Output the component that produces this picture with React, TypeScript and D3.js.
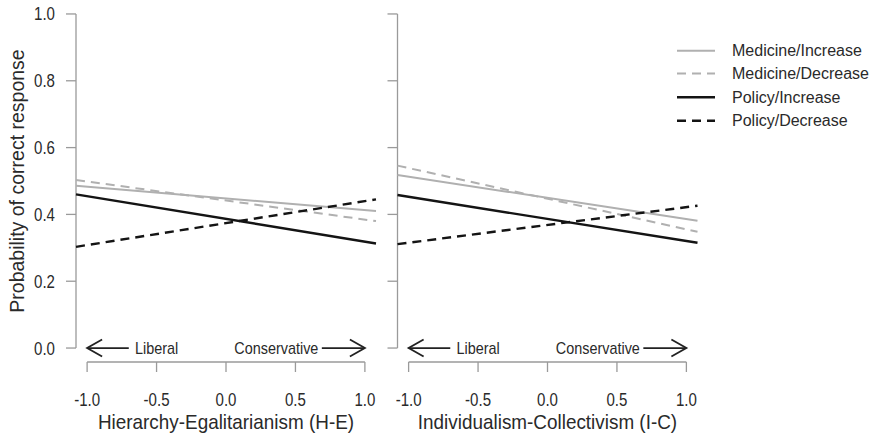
import React from "react";
import * as d3 from "d3";

const xEnds = [-1.08, 1.08];
const xTicks = [-1.0, -0.5, 0.0, 0.5, 1.0];
const yTicks = [0.0, 0.2, 0.4, 0.6, 0.8, 1.0];

// Left panel: Hierarchy-Egalitarianism
const heMedInc = [0.486, 0.41];
const heMedDec = [0.503, 0.38];
const hePolInc = [0.46, 0.313];
const hePolDec = [0.303, 0.445];

// Right panel: Individualism-Collectivism
const icMedInc = [0.518, 0.381];
const icMedDec = [0.546, 0.348];
const icPolInc = [0.458, 0.315];
const icPolDec = [0.311, 0.426];

const seriesNames = ["Medicine/Increase", "Medicine/Decrease", "Policy/Increase", "Policy/Decrease"];
const seriesColors = ["#b0b0b0", "#b0b0b0", "#141414", "#141414"];
const seriesWidths = [2, 2, 2.4, 2.4];
const seriesDash = [null, "9,6", null, "9,6"];

const FONT = "'Liberation Sans', Arial, Helvetica, sans-serif";
const AXIS = "#9a9a9a";
const TXT = "#2a2a2a";

const yScale = d3.scaleLinear().domain([-0.04, 1.04]).range([361.4, 0.6]);

function SText({
  x,
  y,
  sx,
  size,
  anchor,
  children,
}: {
  x: number;
  y: number;
  sx: number;
  size: number;
  anchor?: string;
  children: React.ReactNode;
}) {
  return (
    <text
      transform={`translate(${x},${y}) scale(${sx},1)`}
      fontSize={size}
      textAnchor={anchor || "start"}
      fill={TXT}
    >
      {children}
    </text>
  );
}

type PanelProps = {
  x0: number;
  x1: number;
  title: string;
  data: number[][];
  showYLabels: boolean;
};

function Arrow({ xa, xb, y }: { xa: number; xb: number; y: number }) {
  const dir = xb > xa ? 1 : -1;
  const hx = 15 * dir;
  return (
    <g stroke="#222" strokeWidth={1.8} fill="none">
      <line x1={xa} y1={y} x2={xb} y2={y} />
      <polyline points={`${xb - hx},${y - 8.5} ${xb},${y} ${xb - hx},${y + 8.5}`} />
    </g>
  );
}

function Panel({ x0, x1, title, data, showYLabels }: PanelProps) {
  const x = d3.scaleLinear().domain([-1.08, 1.08]).range([x0, x1]);
  const line = d3
    .line<number>()
    .x((_, i) => x(xEnds[i]))
    .y((d) => yScale(d));
  const axisY = 362;
  const y0 = yScale(0);
  return (
    <g fontFamily={FONT}>
      <line x1={x0} x2={x0} y1={yScale(0)} y2={yScale(1)} stroke={AXIS} strokeWidth={1.3} />
      {yTicks.map((t) => (
        <g key={t}>
          <line x1={x0 - 10} x2={x0} y1={yScale(t)} y2={yScale(t)} stroke={AXIS} strokeWidth={1.3} />
          {showYLabels && (
            <SText x={x0 - 21} y={yScale(t) + 6.5} sx={0.86} size={17.5} anchor="end">
              {t.toFixed(1)}
            </SText>
          )}
        </g>
      ))}
      <line x1={x(-1)} x2={x(1)} y1={axisY} y2={axisY} stroke={AXIS} strokeWidth={1.3} />
      {xTicks.map((t) => (
        <g key={t}>
          <line x1={x(t)} x2={x(t)} y1={axisY} y2={axisY + 10} stroke={AXIS} strokeWidth={1.3} />
          <SText x={x(t)} y={406} sx={0.86} size={17.5} anchor="middle">
            {t.toFixed(1)}
          </SText>
        </g>
      ))}
      <SText x={x(0)} y={428.5} sx={0.9} size={21} anchor="middle">
        {title}
      </SText>
      {data.map((d, i) => (
        <path
          key={i}
          d={line(d) || ""}
          fill="none"
          stroke={seriesColors[i]}
          strokeWidth={seriesWidths[i]}
          strokeDasharray={seriesDash[i] || undefined}
        />
      ))}
      <Arrow xa={x(-0.7)} xb={x(-1.0)} y={y0} />
      <SText x={x(-0.655)} y={y0 + 6} sx={0.9} size={16} anchor="start">
        Liberal
      </SText>
      <SText x={x(0.665)} y={y0 + 6} sx={0.9} size={16} anchor="end">
        Conservative
      </SText>
      <Arrow xa={x(0.69)} xb={x(1.0)} y={y0} />
    </g>
  );
}

export default function App() {
  const legendY = [50.7, 73.5, 97.3, 120.7];
  return (
    <svg
      width={877}
      height={434}
      style={{ position: "absolute", left: 0, top: 0, background: "#fff" }}
    >
      <rect width={877} height={434} fill="#fff" />
      <g fontFamily={FONT}>
        <text
          transform={`translate(17,181) rotate(-90)`}
          textAnchor="middle"
          dy="0.36em"
          fontSize={19.5}
          fill={TXT}
        >
          Probability of correct response
        </text>
      </g>
      <Panel
        x0={76}
        x1={376}
        title="Hierarchy-Egalitarianism (H-E)"
        data={[heMedInc, heMedDec, hePolInc, hePolDec]}
        showYLabels={true}
      />
      <Panel
        x0={397.5}
        x1={697.5}
        title="Individualism-Collectivism (I-C)"
        data={[icMedInc, icMedDec, icPolInc, icPolDec]}
        showYLabels={false}
      />
      <g fontFamily={FONT}>
        {seriesNames.map((n, i) => (
          <g key={n}>
            <line
              x1={677}
              x2={715}
              y1={legendY[i]}
              y2={legendY[i]}
              stroke={seriesColors[i]}
              strokeWidth={seriesWidths[i]}
              strokeDasharray={seriesDash[i] || undefined}
            />
            <text x={732} y={legendY[i]} dy="0.36em" fontSize={16} fill={TXT}>
              {n}
            </text>
          </g>
        ))}
      </g>
    </svg>
  );
}
